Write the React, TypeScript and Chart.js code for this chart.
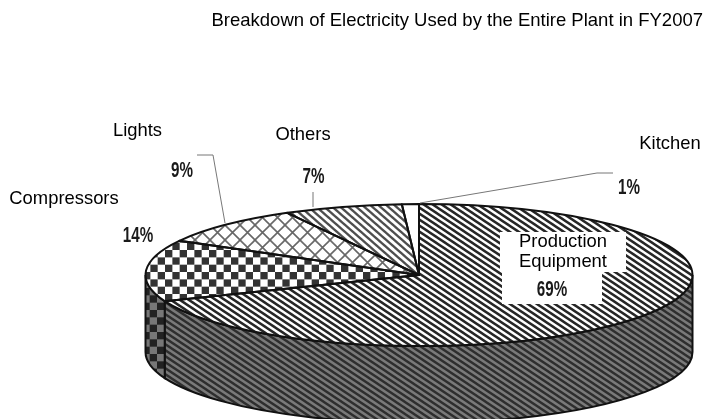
import { useEffect, useRef } from "react";
import { Chart, registerables } from "chart.js";

Chart.register(...registerables);

// Plant electricity shares, clockwise from twelve o'clock
const categories = ["Production Equipment", "Compressors", "Lights", "Others", "Kitchen"];
const shares = [69, 14, 9, 7, 1];
const chartTitle = "Breakdown of Electricity Used by the Entire Plant in FY2007";

// Where the tilted disc sits on the page
const DISC = { cx: 419, cy: 275, rx: 273.5, ry: 71, depth: 77 };
const SANS = '"Liberation Sans", Arial, sans-serif';

// Name text: [lines, centre x, baseline y] per category
const namePlacement: [string[], number, number][] = [
  [["Production", "Equipment"], 563, 247],
  [["Compressors"], 64, 204],
  [["Lights"], 137.5, 136],
  [["Others"], 303, 140],
  [["Kitchen"], 670, 149],
];
const percentPlacement: [number, number][] = [
  [552, 296],
  [138, 242],
  [182, 177],
  [313.5, 183],
  [629, 194],
];
const leaders: [number, number][][] = [
  [[197, 155], [213, 155], [225, 223]],
  [[313, 192], [313, 207]],
  [[420, 203], [597, 173], [613, 173]],
];
const labelBacks: [number, number, number, number][] = [
  [500, 232, 126, 40],
  [502, 272, 100, 32],
];

function tile(w: number, h: number, paint: (c: CanvasRenderingContext2D) => void) {
  const canvas = document.createElement("canvas");
  canvas.width = w;
  canvas.height = h;
  const c = canvas.getContext("2d")!;
  paint(c);
  return c.createPattern(canvas, "repeat")!;
}

function stripes(w: number, h: number, bg: string, fg: string, lw: number) {
  return tile(w, h, (c) => {
    c.fillStyle = bg;
    c.fillRect(0, 0, w, h);
    c.strokeStyle = fg;
    c.lineWidth = lw;
    for (let i = -1; i <= 1; i++) {
      c.beginPath();
      c.moveTo(-w + i * w, -h);
      c.lineTo(2 * w + i * w, 2 * h);
      c.stroke();
    }
  });
}

// Three periods of the checkerboard per 44px tile, so the repeat stays seamless
function checks(bg: string, fg: string) {
  const cell = 44 / 6;
  return tile(44, 44, (c) => {
    c.fillStyle = bg;
    c.fillRect(0, 0, 44, 44);
    c.fillStyle = fg;
    for (let row = 0; row < 6; row++) {
      for (let col = 0; col < 6; col++) {
        if ((row + col) % 2 === 0) c.fillRect(col * cell, row * cell, cell, cell);
      }
    }
  });
}

function lattice(size: number, bg: string, fg: string, lw: number) {
  return tile(size, size, (c) => {
    c.fillStyle = bg;
    c.fillRect(0, 0, size, size);
    c.strokeStyle = fg;
    c.lineWidth = lw;
    c.beginPath();
    c.moveTo(-size, -size);
    c.lineTo(2 * size, 2 * size);
    c.moveTo(2 * size, -size);
    c.lineTo(-size, 2 * size);
    c.stroke();
  });
}

export default function App() {
  const ref = useRef<HTMLCanvasElement>(null);

  useEffect(() => {
    document.body.style.margin = "0";
    document.body.style.background = "#fff";

    const topFills: (CanvasPattern | string)[] = [
      stripes(9, 6, "#ffffff", "#262626", 2.6),
      checks("#ffffff", "#333333"),
      lattice(15, "#ffffff", "#666666", 1.6),
      stripes(8, 7, "#ffffff", "#4d4d4d", 2.4),
      "#ffffff",
    ];
    const checkWall = checks("#777777", "#222222");
    checkWall.setTransform(new DOMMatrix().translate(3, 2));
    const wallFills: (CanvasPattern | string)[] = [
      stripes(9, 6, "#7a7a7a", "#2e2e2e", 2.4),
      checkWall,
      "#777777",
      "#777777",
      "#777777",
    ];

    const tiltedDisc = {
      id: "tiltedDisc",
      beforeDatasetDraw(chart: Chart) {
        const ctx = chart.ctx;
        const arcs = chart.getDatasetMeta(0).data as any[];
        const { x, y, outerRadius } = arcs[0].getProps(["x", "y", "outerRadius"], true);
        const sx = DISC.rx / outerRadius;
        const sy = DISC.ry / outerRadius;

        // Side wall: only the front half of the rim shows
        ctx.save();
        ctx.lineWidth = 2;
        ctx.strokeStyle = "#111";
        arcs.forEach((arc, i) => {
          const { startAngle, endAngle } = arc.getProps(["startAngle", "endAngle"], true);
          const a0 = Math.max(startAngle, 0);
          const a1 = Math.min(endAngle, Math.PI);
          if (a1 <= a0) return;
          ctx.beginPath();
          ctx.ellipse(DISC.cx, DISC.cy, DISC.rx, DISC.ry, 0, a0, a1);
          ctx.ellipse(DISC.cx, DISC.cy + DISC.depth, DISC.rx, DISC.ry, 0, a1, a0, true);
          ctx.closePath();
          ctx.fillStyle = wallFills[i];
          ctx.fill();
          ctx.stroke();
        });
        ctx.restore();

        // Keep the hatching square on screen while the slices are squashed
        const back = new DOMMatrix()
          .translate(x, y)
          .scale(1 / sx, 1 / sy)
          .translate(-DISC.cx, -DISC.cy);
        topFills.forEach((f, i) => {
          if (typeof f === "string") return;
          f.setTransform(i === 1 ? back.translate(11, 8) : back);
        });

        ctx.save();
        ctx.translate(DISC.cx, DISC.cy);
        ctx.scale(sx, sy);
        ctx.translate(-x, -y);
      },
      afterDatasetDraw(chart: Chart) {
        const ctx = chart.ctx;
        ctx.restore();
        const arcs = chart.getDatasetMeta(0).data as any[];

        // Slice outlines are stroked unsquashed so the line weight stays even
        ctx.save();
        ctx.lineWidth = 2;
        ctx.strokeStyle = "#111";
        ctx.lineJoin = "round";
        arcs.forEach((arc) => {
          const { startAngle, endAngle } = arc.getProps(["startAngle", "endAngle"], true);
          ctx.beginPath();
          ctx.moveTo(DISC.cx, DISC.cy);
          ctx.ellipse(DISC.cx, DISC.cy, DISC.rx, DISC.ry, 0, startAngle, endAngle);
          ctx.closePath();
          ctx.stroke();
        });

        ctx.lineWidth = 1;
        ctx.strokeStyle = "#777";
        leaders.forEach((pts) => {
          ctx.beginPath();
          pts.forEach(([px, py], i) => (i ? ctx.lineTo(px, py) : ctx.moveTo(px, py)));
          ctx.stroke();
        });

        ctx.fillStyle = "#fff";
        labelBacks.forEach(([bx, by, bw, bh]) => ctx.fillRect(bx, by, bw, bh));

        ctx.fillStyle = "#000";
        ctx.textAlign = "center";
        ctx.textBaseline = "alphabetic";
        ctx.font = `18.4px ${SANS}`;
        namePlacement.forEach(([lines, px, py]) => {
          lines.forEach((line, i) => ctx.fillText(line, px, py + i * 20));
        });

        // Condensed, tall percentages
        ctx.fillStyle = "#1a1a1a";
        ctx.font = `bold 22px ${SANS}`;
        percentPlacement.forEach(([px, py], i) => {
          ctx.save();
          ctx.translate(px, py);
          ctx.scale(0.69, 1);
          ctx.fillText(`${shares[i]}%`, 0, 0);
          ctx.restore();
        });
        ctx.restore();
      },
    };

    const chart = new Chart(ref.current!, {
      type: "pie",
      data: {
        labels: categories,
        datasets: [
          {
            data: shares,
            backgroundColor: topFills as any,
            borderWidth: 0,
            clip: false as any,
          },
        ],
      },
      options: {
        responsive: false,
        animation: false,
        devicePixelRatio: 1,
        layout: { padding: { top: 10, bottom: 20, left: 120, right: 1 } },
        plugins: {
          legend: { display: false },
          tooltip: { enabled: false },
          title: {
            display: true,
            text: chartTitle,
            align: "end",
            color: "#000",
            font: { family: SANS, size: 18.5, weight: "normal" },
            padding: { top: 0, bottom: 4 },
          },
        },
      },
      plugins: [tiltedDisc as any],
    });
    return () => chart.destroy();
  }, []);

  return (
    <div style={{ position: "fixed", left: 0, top: 0, width: 704, height: 419, overflow: "hidden" }}>
      <canvas ref={ref} width={704} height={419} style={{ display: "block" }} />
    </div>
  );
}
